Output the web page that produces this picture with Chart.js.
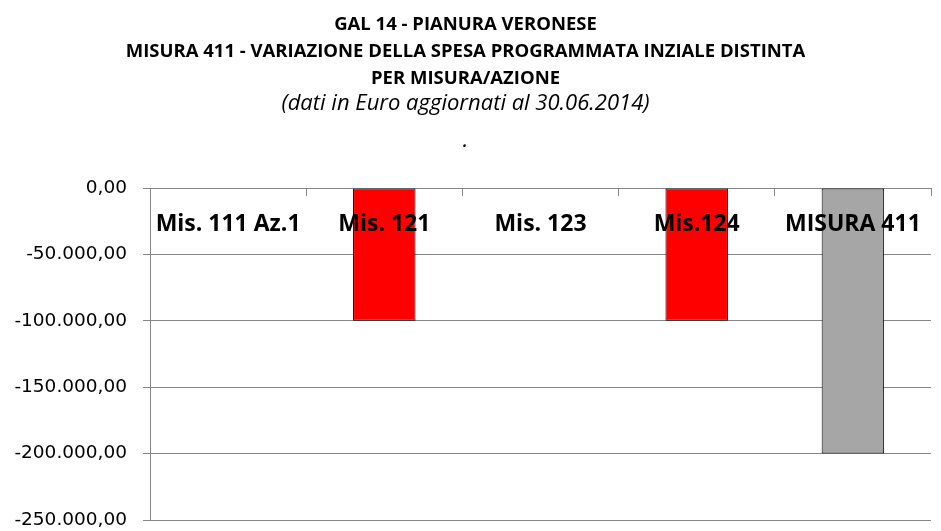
<!DOCTYPE html>
<html>
<head>
<meta charset="utf-8">
<script src="https://cdn.jsdelivr.net/npm/chart.js@4/dist/chart.umd.min.js"></script>
<style>
  html, body { margin: 0; padding: 0; background: #ffffff; }
  #wrap { width: 941px; height: 531px; }
</style>
</head>
<body>
<div id="wrap"><canvas id="c" width="941" height="531"></canvas></div>
<script>
// ---- data ----
const categories = ['Mis. 111 Az.1', 'Mis. 121', 'Mis. 123', 'Mis.124', 'MISURA 411'];
const variazione = [0, -100000, 0, -100000, -200000];
const barColors = ['#FF0000', '#FF0000', '#FF0000', '#FF0000', '#A6A6A6'];
const yTickValues = [0, -50000, -100000, -150000, -200000, -250000];
const yTickLabels = ['0,00', '-50.000,00', '-100.000,00', '-150.000,00', '-200.000,00', '-250.000,00'];
const titleLines = ['GAL 14 - PIANURA VERONESE', 'MISURA 411 - VARIAZIONE DELLA SPESA PROGRAMMATA INZIALE DISTINTA', 'PER MISURA/AZIONE'];
const subtitleLines = ['(dati in Euro aggiornati al 30.06.2014)', '', '.'];

const FONT = '"Open Sans", Lato, "Liberation Sans", sans-serif';
const TICKFONT = '"DejaVu Sans", "Open Sans", sans-serif';
const GRID = '#868686';

new Chart(document.getElementById('c'), {
  type: 'bar',
  data: {
    labels: categories,
    datasets: [{
      data: variazione,
      backgroundColor: barColors,
      borderColor: '#000000',
      borderWidth: 1,
      borderSkipped: false,
      barPercentage: 0.4,
      categoryPercentage: 1.0
    }]
  },
  options: {
    responsive: false,
    animation: false,
    devicePixelRatio: 1,
    layout: { padding: { left: 0, right: 10, top: 0, bottom: 11 } },
    plugins: {
      legend: { display: false },
      tooltip: { enabled: false },
      title: {
        display: true,
        text: titleLines,
        color: '#000',
        font: { family: FONT, size: 18.5, weight: 'bold', lineHeight: 27 / 18.5 },
        padding: { top: 11, bottom: 2.5 }
      },
      subtitle: {
        display: true,
        text: subtitleLines,
        color: '#000',
        font: { family: FONT, size: 22, style: 'italic', weight: 'normal', lineHeight: 18.5 / 22 },
        padding: { top: 0.25, bottom: 37.75 }
      }
    },
    scales: {
      x: {
        type: 'category',
        position: { y: 0 },
        offset: true,
        afterFit: (scale) => { scale.height = 0; },
        border: { display: true, color: GRID, width: 1 },
        grid: { display: true, drawOnChartArea: false, drawTicks: true, tickLength: 7, color: GRID, offset: true },
        ticks: {
          z: 1,
          color: '#000',
          font: { family: FONT, size: 23, weight: 'bold' },
          padding: 16,
          maxRotation: 0,
          autoSkip: false
        }
      },
      y: {
        min: -250000,
        max: 0,
        afterFit: (scale) => { scale.width = 150; scale.paddingTop = 0; scale.paddingBottom = 0; },
        afterBuildTicks: (scale) => { scale.ticks = yTickValues.slice().reverse().map(v => ({ value: v })); },
        border: { display: true, color: GRID, width: 1 },
        grid: { color: GRID, lineWidth: 1, tickLength: 7, drawTicks: true },
        ticks: {
          color: '#000',
          font: { family: TICKFONT, size: 18.5 },
          padding: 16,
          callback: (value) => {
            const i = yTickValues.indexOf(value);
            return i >= 0 ? yTickLabels[i] : '';
          }
        }
      }
    }
  }
});
</script>
</body>
</html>
